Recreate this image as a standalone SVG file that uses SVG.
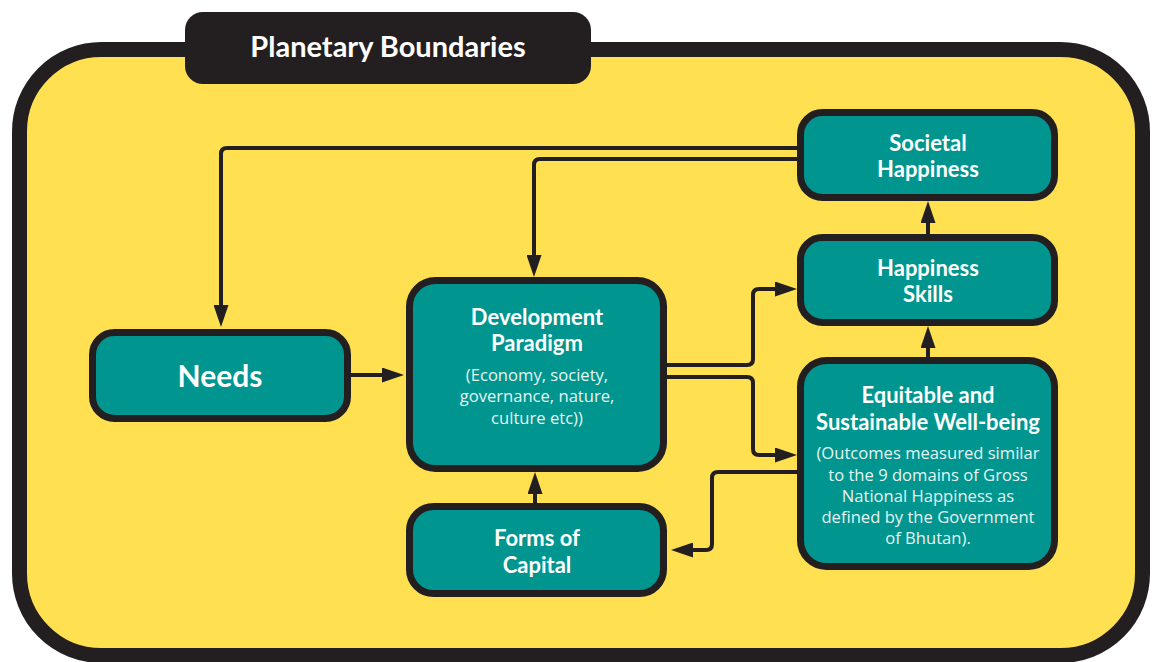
<svg xmlns="http://www.w3.org/2000/svg" width="1158" height="662" viewBox="0 0 1158 662">
<style>
.box{fill:#00958F;stroke:#231F20;stroke-width:7}
.h{font-family:Lato,"Open Sans","Liberation Sans",sans-serif;font-weight:bold;fill:#fff;text-anchor:middle;font-size:22px}
.s{font-family:"Open Sans","Liberation Sans",sans-serif;fill:#E6F4F2;text-anchor:middle;font-size:16.6px}
.c{fill:none;stroke:#231F20;stroke-width:4}
</style>
<defs>
<marker id="ah" markerUnits="userSpaceOnUse" markerWidth="22" markerHeight="15" refX="12" refY="7.5" orient="auto">
<path d="M0,0 L22,7.5 L0,15 z" fill="#231F20"/>
</marker>
</defs>
<rect width="1158" height="662" fill="#fff"/>
<g id="frame">
<rect x="19.5" y="49.5" width="1123" height="606" rx="82" fill="#FFE050" stroke="#231F20" stroke-width="15"/>
<rect x="185" y="12" width="406" height="72" rx="18" fill="#231F20"/>
<text x="388" y="57" class="h" style="font-size:29px">Planetary Boundaries</text>
</g>
<g id="connectors" class="c">
<path class="c" d="M797 148 H227 Q221 148 221 154 V317" marker-end="url(#ah)"/>
<path class="c" d="M797 159 H540 Q534 159 534 165 V267" marker-end="url(#ah)"/>
<path class="c" d="M351 375 H394" marker-end="url(#ah)"/>
<path class="c" d="M667 365 H747 Q753 365 753 359 V295 Q753 289 759 289 H787" marker-end="url(#ah)"/>
<path class="c" d="M667 377 H747 Q753 377 753 383 V449 Q753 455 759 455 H787" marker-end="url(#ah)"/>
<path class="c" d="M797 472 H718 Q712 472 712 478 V544 Q712 550 706 550 H681" marker-end="url(#ah)"/>
<path class="c" d="M535 503 V482" marker-end="url(#ah)"/>
<path class="c" d="M928 234 V211" marker-end="url(#ah)"/>
<path class="c" d="M928 357 V336" marker-end="url(#ah)"/>
</g>
<g id="needs">
<rect class="box" x="92.5" y="332.5" width="255" height="86" rx="22"/>
<text x="220" y="387" class="h" style="font-size:30px">Needs</text>
</g>
<g id="development-paradigm">
<rect class="box" x="409.5" y="280.5" width="254" height="188" rx="26"/>
<text x="537" y="325" class="h">Development</text>
<text x="537" y="351" class="h">Paradigm</text>
<text x="537" y="381" class="s">(Economy, society,</text>
<text x="537" y="402" class="s">governance, nature,</text>
<text x="537" y="424" class="s">culture etc))</text>
</g>
<g id="forms-of-capital">
<rect class="box" x="409.5" y="506.5" width="254" height="87" rx="24"/>
<text x="537" y="546" class="h">Forms of</text>
<text x="537" y="573" class="h">Capital</text>
</g>
<g id="societal-happiness">
<rect class="box" x="800.5" y="112.5" width="254" height="85" rx="22"/>
<text x="928" y="151" class="h">Societal</text>
<text x="928" y="177" class="h">Happiness</text>
</g>
<g id="happiness-skills">
<rect class="box" x="800.5" y="237.5" width="254" height="85" rx="22"/>
<text x="928" y="276" class="h">Happiness</text>
<text x="928" y="302" class="h">Skills</text>
</g>
<g id="equitable-wellbeing">
<rect class="box" x="800.5" y="360.5" width="254" height="206" rx="26"/>
<text x="928" y="403" class="h">Equitable and</text>
<text x="928" y="430" class="h">Sustainable Well-being</text>
<text x="928" y="459" class="s">(Outcomes measured similar</text>
<text x="928" y="481" class="s">to the 9 domains of Gross</text>
<text x="928" y="502" class="s">National Happiness as</text>
<text x="928" y="523" class="s">defined by the Government</text>
<text x="928" y="544" class="s">of Bhutan).</text>
</g>
</svg>
